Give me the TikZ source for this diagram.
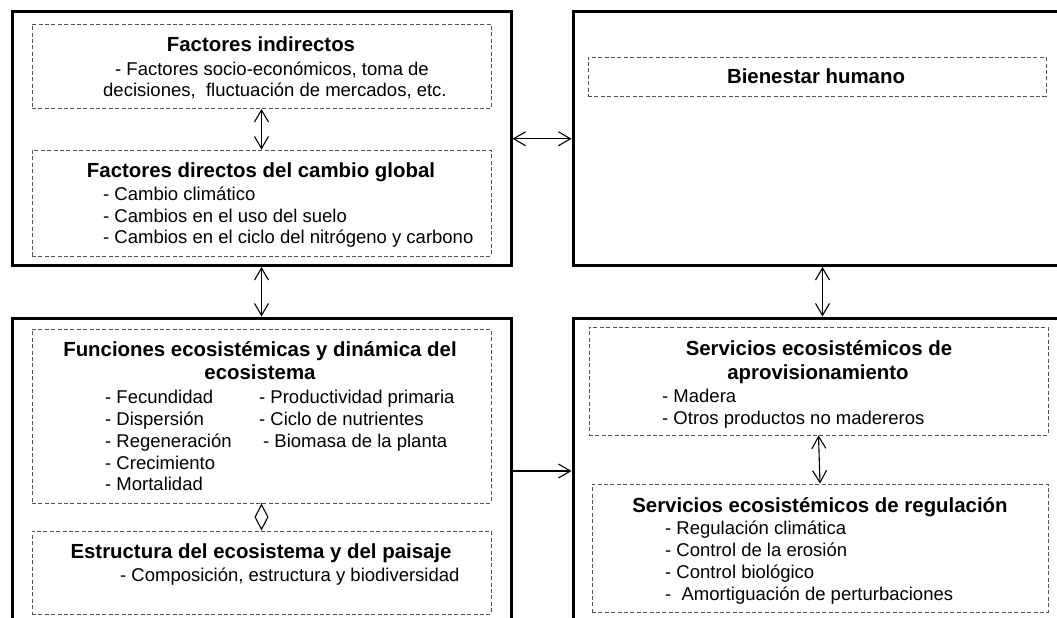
\documentclass[tikz,border=0pt]{standalone}
\usepackage{fontspec}
\setmainfont{Liberation Sans}
\usetikzlibrary{arrows.meta}
\begin{document}
\begin{tikzpicture}[x=1pt,y=-1pt,
  outerbox/.style={draw=black, line width=3pt, inner sep=0pt, rectangle},
  dashbox/.style={draw=black!68, line width=0.9pt, dash pattern=on 4pt off 2.4pt, inner sep=0pt, rectangle},
  ttl/.style={font=\fontsize{20.4}{24}\selectfont\bfseries, inner sep=0pt, anchor=base},
  itm/.style={font=\fontsize{18.5}{22}\selectfont, inner sep=0pt, anchor=base west},
  barb/.tip={Straight Barb[length=12pt,width=14pt]},
  biarrow/.style={line width=1.1pt, barb-barb},
  onearrow/.style={line width=1.1pt, -barb},
  diamarrow/.style={line width=1.1pt, -{Diamond[open,length=27pt,width=14pt]}}]
\useasboundingbox (0,0) rectangle (1057,618);
\fill[white] (0,0) rectangle (1057,618);
\clip (0,0) rectangle (1057,618);

% outer boxes
\node[outerbox, minimum width=499pt, minimum height=253.5pt] (tl) at (261.5,138.75) {};
\node[outerbox, minimum width=499pt, minimum height=253.5pt] (tr) at (822.5,138.75) {};
\node[outerbox, minimum width=499pt, minimum height=322pt] (bl) at (261.5,479) {};
\node[outerbox, minimum width=499pt, minimum height=322pt] (br) at (822.5,479) {};

% dashed boxes
\node[dashbox, minimum width=459pt, minimum height=84.5pt] (ind) at (261.5,66.25) {};
\node[dashbox, minimum width=459pt, minimum height=106pt] (dir) at (261.5,203) {};
\node[dashbox, minimum width=458pt, minimum height=39pt] (bien) at (817,76.5) {};
\node[dashbox, minimum width=459pt, minimum height=174pt] (fun) at (261.5,416) {};
\node[dashbox, minimum width=459pt, minimum height=83pt] (est) at (261.5,572.5) {};
\node[dashbox, minimum width=459pt, minimum height=108pt] (apro) at (818.5,381) {};
\node[dashbox, minimum width=456pt, minimum height=128pt] (reg) at (820,548) {};

% texts: top-left
\node[ttl] (tind) at (261,52) {Factores indirectos};
\node[itm] (i1) at (115,75) {- Factores socio-económicos, toma de};
\node[itm] (i2) at (103,96) {decisiones, \ fluctuación de mercados, etc.};
\node[ttl] (tdir) at (261,177) {Factores directos del cambio global};
\node[itm] (d1) at (103,200) {- Cambio climático};
\node[itm] (d2) at (103,222) {- Cambios en el uso del suelo};
\node[itm] (d3) at (103,243) {- Cambios en el ciclo del nitrógeno y carbono};

% top-right
\node[ttl] (tbien) at (816,83.5) {Bienestar humano};

% bottom-left
\node[ttl] (tfun1) at (260,356) {Funciones ecosistémicas y dinámica del};
\node[ttl] (tfun2) at (260,379) {ecosistema};
\node[itm] (f1) at (105,403) {- Fecundidad};
\node[itm] (f2) at (105,425) {- Dispersión};
\node[itm] (f3) at (105,447) {- Regeneración};
\node[itm] (f4) at (105,469) {- Crecimiento};
\node[itm] (f5) at (105,490) {- Mortalidad};
\node[itm] (g1) at (259,403) {- Productividad primaria};
\node[itm] (g2) at (259,425) {- Ciclo de nutrientes};
\node[itm] (g3) at (263,447) {- Biomasa de la planta};
\node[ttl] (test) at (261,558) {Estructura del ecosistema y del paisaje};
\node[itm] (e1) at (120,581) {- Composición, estructura y biodiversidad};

% bottom-right
\node[ttl] (tapro1) at (819,355) {Servicios ecosistémicos de};
\node[ttl] (tapro2) at (818,379) {aprovisionamiento};
\node[itm] (a1) at (662,402) {- Madera};
\node[itm] (a2) at (662,424) {- Otros productos no madereros};
\node[ttl] (treg) at (820,512) {Servicios ecosistémicos de regulación};
\node[itm] (r1) at (665,534) {- Regulación climática};
\node[itm] (r2) at (665,556) {- Control de la erosión};
\node[itm] (r3) at (665,578) {- Control biológico};
\node[itm] (r4) at (665,600) {-\ \ Amortiguación de perturbaciones};

% connectors
\coordinate (ay) at (0,471);
\draw[biarrow] (ind.south) -- (dir.north);
\draw[biarrow] (tl.east) -- (tr.west);
\draw[biarrow] (tl.south) -- (bl.north);
\draw[biarrow] (tr.south) -- (br.north);
\draw[biarrow] (apro.south) -- (reg.north);
\draw[diamarrow] (fun.south) -- (est.north);
\draw[onearrow] (bl.east |- ay) -- (br.west |- ay);
\end{tikzpicture}
\end{document}
